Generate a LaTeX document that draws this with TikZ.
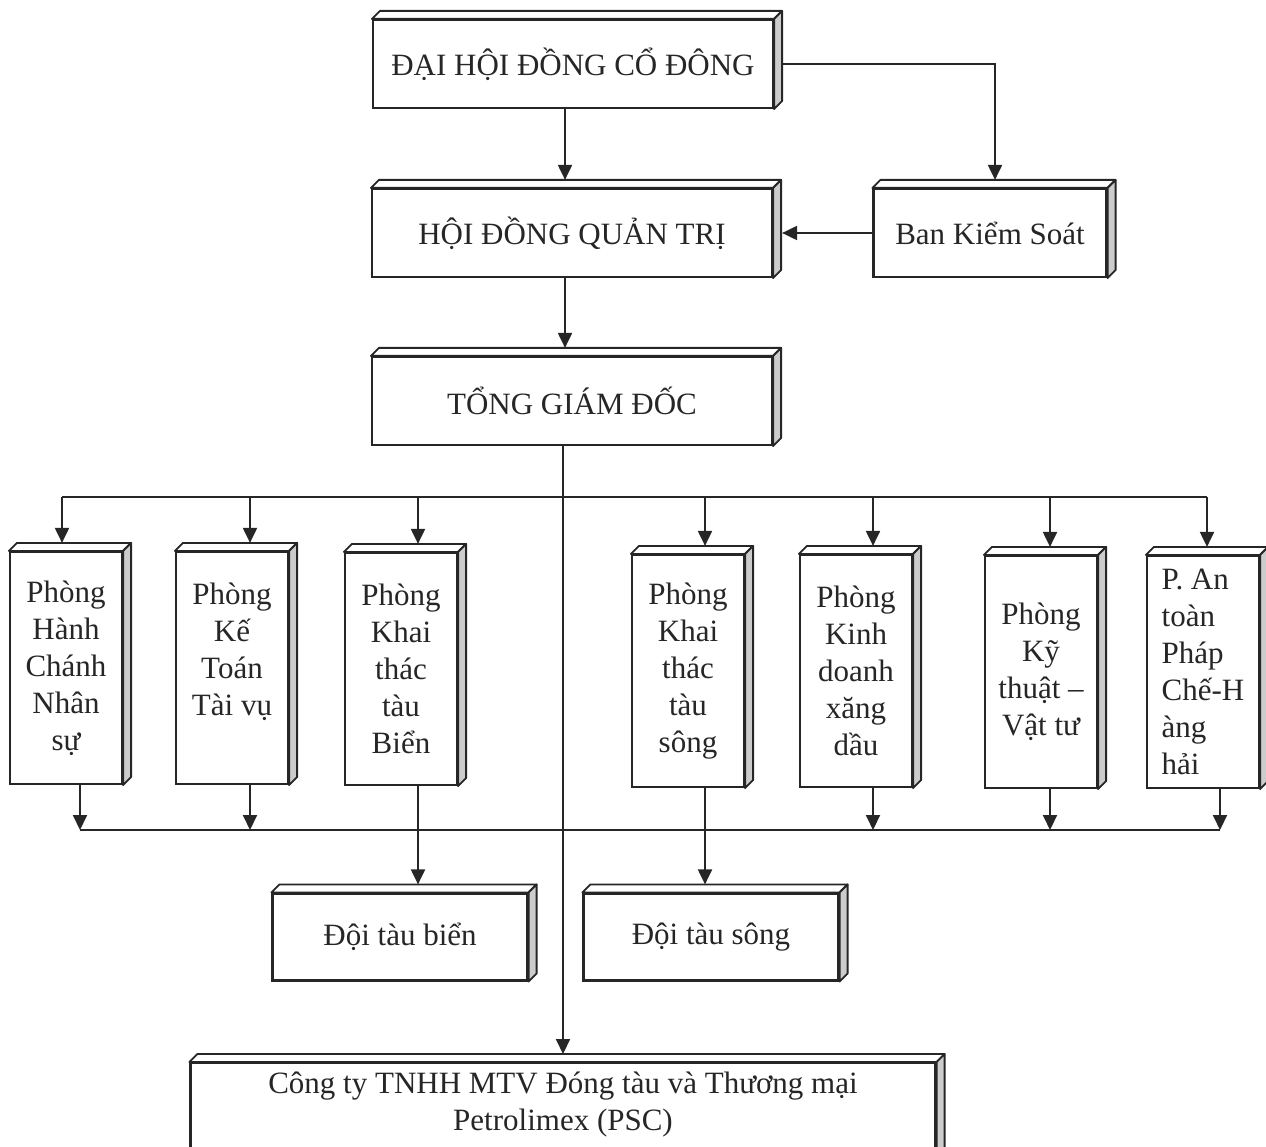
\documentclass[tikz,border=0pt]{standalone}
\usepackage{fontspec}
\setmainfont{Liberation Serif}
\usetikzlibrary{arrows.meta,calc,positioning}

\begin{document}
\begin{tikzpicture}[
            x=1pt, y=-1pt,
            box3d/.style={draw=black!85, line width=2.2pt, fill=white, align=center, inner sep=2pt,
                text=black!85, font=\fontsize{31}{37}\selectfont,
                append after command={\pgfextra{
                    \filldraw[fill=white, draw=black!85, line width=1.8pt, line join=round]
                        (\tikzlastnode.north west) -- ++(8,-8) -- ([shift={(8,-8)}]\tikzlastnode.north east)
                        -- (\tikzlastnode.north east) -- cycle;
                    \filldraw[fill=gray!40, draw=black!85, line width=1.8pt, line join=round]
                        (\tikzlastnode.north east) -- ++(8,-8) -- ([shift={(8,-8)}]\tikzlastnode.south east)
                        -- (\tikzlastnode.south east) -- cycle;}}},
            wide_box/.style={box3d, minimum width=400pt, minimum height=88pt},
            tall_box/.style={box3d, minimum width=112pt, minimum height=232pt},
            fleet_box/.style={box3d, minimum width=255pt, minimum height=87pt},
            line/.style={draw=black!85, line width=2pt},
            arr/.style={line, -{Triangle[length=15pt,width=14pt]}}
        ]
            \useasboundingbox (0,0) rectangle (1266,1147);

            % top of the chart
            \node[wide_box] (dhdcd) at (573,64) {ĐẠI HỘI ĐỒNG CỔ ĐÔNG};
            \node[wide_box] (hdqt) at (572,233) {HỘI ĐỒNG QUẢN TRỊ};
            \node[wide_box] (tgd) at (572,401) {TỔNG GIÁM ĐỐC};
            \node[box3d, minimum width=233pt, minimum height=88pt] (bks) at (990,233) {Ban Kiểm Soát};

            % departments
            \node[tall_box] (phc) at (66,668) {Phòng\\Hành\\Chánh\\Nhân\\sự};
            \node[tall_box] (pkt) at (232,668) {Phòng\\Kế\\Toán\\Tài vụ\\\mbox{}};
            \node[tall_box] (pkb) at (401,669) {Phòng\\Khai\\thác\\tàu\\Biển};
            \node[tall_box] (pks) at (688,671) {Phòng\\Khai\\thác\\tàu\\sông};
            \node[tall_box] (pkd) at (856,671) {Phòng\\Kinh\\doanh\\xăng\\dầu};
            \node[tall_box] (pkv) at (1041,672) {Phòng\\Kỹ\\thuật –\\Vật tư};
            \node[tall_box, align=left] (pat) at (1203,672) {P. An\\toàn\\Pháp\\Chế-H\\àng\\hải};

            % fleets and subsidiary
            \node[fleet_box] (dtb) at (400,937) {Đội tàu biển};
            \node[fleet_box] (dts) at (711,937) {Đội tàu sông};
            \node[box3d, minimum width=745pt, anchor=north, inner ysep=9pt, text depth=90pt] (psc) at (563,1062)
                {Công ty TNHH MTV Đóng tàu và Thương mại\\Petrolimex (PSC)};

            \coordinate (busT) at (563,497);
            \coordinate (busB) at (563,830);

            % connectors
            \draw[arr] ([xshift=-8pt]dhdcd.south) -- ([xshift=-7pt,yshift=8pt]hdqt.north);
            \draw[arr] ([xshift=9pt]dhdcd.east) -| ([xshift=5pt,yshift=8pt]bks.north);
            \draw[arr] (bks.west) -- ([xshift=9pt]hdqt.east);
            \draw[arr] ([xshift=-7pt]hdqt.south) -- ([xshift=-7pt,yshift=8pt]tgd.north);
            \draw[arr] ([xshift=-9pt]tgd.south) -- ([yshift=8pt]psc.north);

            \draw[line] ([xshift=-4pt]phc.north |- busT) -- ([xshift=4pt]pat.north |- busT);
            \draw[arr] ([xshift=-4pt]phc.north |- busT) -- ([xshift=-4pt,yshift=8pt]phc.north);
            \draw[arr] ([xshift=18pt]pkt.north |- busT) -- ([xshift=18pt,yshift=8pt]pkt.north);
            \draw[arr] ([xshift=17pt]pkb.north |- busT) -- ([xshift=17pt,yshift=8pt]pkb.north);
            \draw[arr] ([xshift=17pt]pks.north |- busT) -- ([xshift=17pt,yshift=8pt]pks.north);
            \draw[arr] ([xshift=17pt]pkd.north |- busT) -- ([xshift=17pt,yshift=8pt]pkd.north);
            \draw[arr] ([xshift=9pt]pkv.north |- busT) -- ([xshift=9pt,yshift=8pt]pkv.north);
            \draw[arr] ([xshift=4pt]pat.north |- busT) -- ([xshift=4pt,yshift=8pt]pat.north);

            \draw[line] ([xshift=14pt]phc.south |- busB) -- ([xshift=17pt]pat.south |- busB);
            \draw[arr] ([xshift=14pt]phc.south) -- ([xshift=14pt]phc.south |- busB);
            \draw[arr] ([xshift=18pt]pkt.south) -- ([xshift=18pt]pkt.south |- busB);
            \draw[arr] ([xshift=17pt]pkd.south) -- ([xshift=17pt]pkd.south |- busB);
            \draw[arr] ([xshift=9pt]pkv.south) -- ([xshift=9pt]pkv.south |- busB);
            \draw[arr] ([xshift=17pt]pat.south) -- ([xshift=17pt]pat.south |- busB);
            \draw[arr] ([xshift=17pt]pkb.south) -- ([xshift=17pt,yshift=8pt]pkb.south |- dtb.north);
            \draw[arr] ([xshift=17pt]pks.south) -- ([xshift=17pt,yshift=8pt]pks.south |- dts.north);
        \end{tikzpicture}
\end{document}
